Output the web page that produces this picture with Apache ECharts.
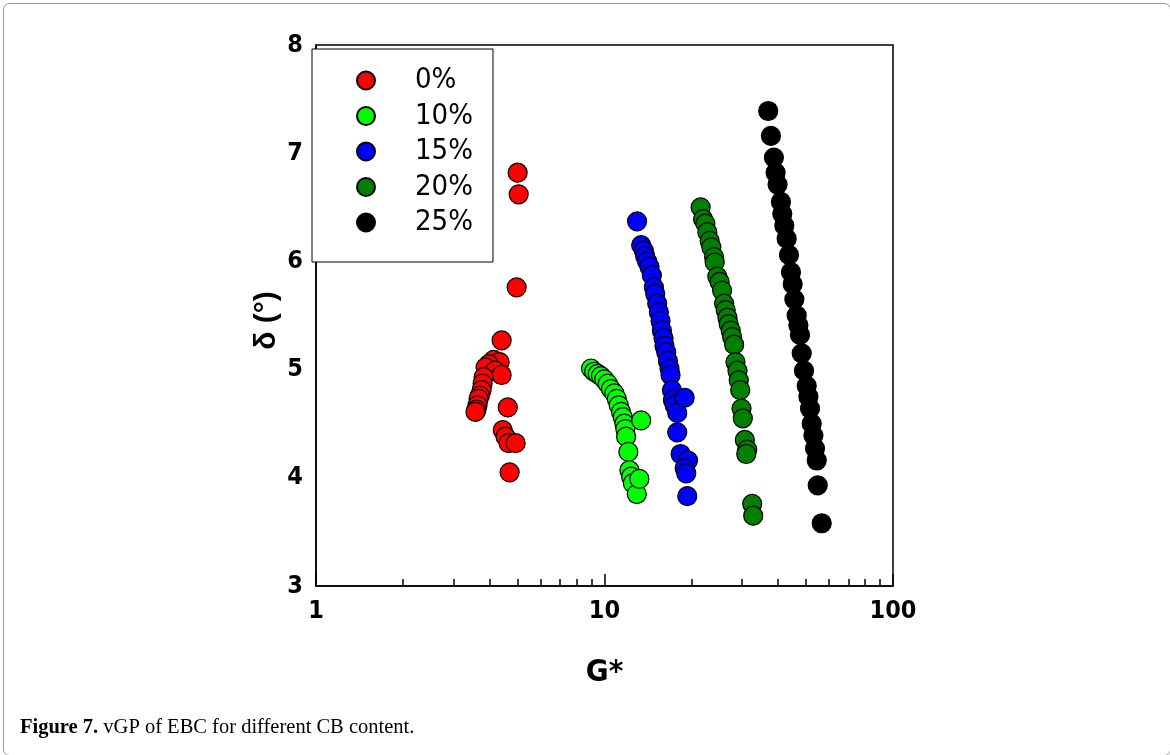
<!DOCTYPE html>
<html><head><meta charset="utf-8">
<script src="https://cdn.jsdelivr.net/npm/echarts@6/dist/echarts.min.js"></script>
<style>html,body{margin:0;padding:0;background:#fff}#c{width:1170px;height:755px}</style>
</head><body><div id="c"></div>
<script>
// ---- data ----
const categories = ['0%', '10%', '15%', '20%', '25%'];

const gStar0  = [5.00,5.04,4.96,4.40,4.13,4.33,3.97,3.87,4.18,4.40,3.81,3.78,3.75,3.70,3.66,3.63,3.60,3.57,4.62,4.44,4.54,4.65,4.92,4.69];
const delta0  = [6.82,6.62,5.76,5.27,5.09,5.07,5.05,5.02,4.99,4.95,4.93,4.87,4.81,4.76,4.73,4.67,4.63,4.61,4.65,4.44,4.38,4.32,4.32,4.05];

const gStar10 = [8.98,9.21,9.47,9.72,9.98,10.26,10.53,10.82,11.03,11.20,11.41,11.57,11.72,11.81,11.88,12.10,12.20,12.37,12.54,12.94,13.21,13.40];
const delta10 = [5.01,4.98,4.96,4.94,4.91,4.87,4.82,4.78,4.73,4.67,4.61,4.56,4.50,4.45,4.38,4.24,4.07,4.01,3.95,3.85,3.99,4.53];

const gStar15 = [12.97,13.40,13.69,13.83,14.05,14.32,14.59,14.83,14.99,15.23,15.43,15.64,15.81,16.02,16.14,16.37,16.59,16.80,16.94,17.13,17.26,17.50,17.87,18.96,17.87,18.36,19.47,18.96,19.20,19.36];
const delta15 = [6.37,6.15,6.10,6.05,6.00,5.95,5.87,5.76,5.70,5.61,5.53,5.45,5.36,5.29,5.22,5.16,5.08,5.01,4.95,4.81,4.72,4.67,4.60,4.74,4.42,4.22,4.16,4.09,4.04,3.83];

const gStar20 = [21.54,21.96,22.37,22.73,23.15,23.46,23.98,24.10,24.60,25.07,25.56,25.98,26.31,26.68,26.95,27.39,27.70,28.14,28.44,28.90,29.20,29.54,29.85,30.16,30.65,31.24,31.00,32.51,32.77];
const delta20 = [6.50,6.39,6.35,6.27,6.19,6.13,6.04,5.99,5.86,5.81,5.73,5.61,5.55,5.48,5.42,5.36,5.30,5.23,5.07,4.99,4.90,4.81,4.64,4.55,4.35,4.26,4.22,3.76,3.65];

const gStar25 = [36.94,37.74,38.65,39.18,39.81,40.88,41.33,42.01,42.79,43.59,44.29,44.90,45.51,46.36,46.99,47.60,48.26,49.15,50.23,50.91,51.57,52.27,52.99,53.67,54.41,54.84,56.62];
const delta25 = [7.39,7.16,6.96,6.82,6.71,6.55,6.44,6.33,6.21,6.06,5.90,5.79,5.65,5.50,5.41,5.32,5.15,4.99,4.85,4.75,4.64,4.50,4.39,4.27,4.16,3.93,3.58];

const xMajorTicks = [1, 10, 100];
const xMinorTicks = [2,3,4,5,6,7,8,9,20,30,40,50,60,70,80,90];

// ---- chart ----
function pairs(xs, ys) { return xs.map((x, i) => [x, ys[i]]); }
const seriesX = [gStar0, gStar10, gStar15, gStar20, gStar25];
const seriesY = [delta0, delta10, delta15, delta20, delta25];
const colors = ['#ff0000', '#00ff00', '#0000ff', '#008000', '#000000'];

const font = 'Liberation Sans, Arial, sans-serif';
const narrow = '"Liberation Sans Narrow", "Arial Narrow", "DejaVu Sans Condensed", sans-serif';
const chart = echarts.init(document.getElementById('c'), null, {renderer: 'canvas'});
chart.setOption({
  animation: false,
  backgroundColor: '#fff',
  grid: {left: 316, right: 277, top: 45, bottom: 169, show: true, borderColor: '#000', borderWidth: 1.5, backgroundColor: 'transparent'},
  legend: {
    orient: 'vertical', left: 312, top: 49,
    padding: [17, 20, 25, 44], itemWidth: 18, itemHeight: 18, itemGap: 6.5,
    backgroundColor: '#fff', borderColor: '#000', borderWidth: 1,
    textStyle: {fontFamily: narrow, fontSize: 29, color: '#000', padding: [0, 0, 0, 35]},
    data: categories
  },
  xAxis: [{
    type: 'log', logBase: 10, min: 1, max: 100,
    axisLine: {lineStyle: {color: '#000', width: 1.5}},
    axisTick: {inside: true, length: 12, customValues: xMajorTicks, lineStyle: {color: '#000', width: 1.5}},
    axisLabel: {fontFamily: narrow, fontWeight: 'bold', fontSize: 25, color: '#000', margin: 13, customValues: xMajorTicks},
    splitLine: {show: false},
    name: 'G*', nameLocation: 'middle', nameGap: 71,
    nameTextStyle: {fontFamily: narrow, fontWeight: 'bold', fontSize: 31, color: '#000'}
  }, {
    type: 'log', logBase: 10, min: 1, max: 100, position: 'bottom',
    axisLine: {show: false},
    axisTick: {inside: true, length: 7, customValues: xMinorTicks, lineStyle: {color: '#000', width: 1.5}},
    axisLabel: {show: false},
    splitLine: {show: false}
  }],
  yAxis: {
    type: 'value', min: 3, max: 8, interval: 1,
    axisLine: {lineStyle: {color: '#000', width: 1.5}},
    axisTick: {show: false},
    axisLabel: {fontFamily: narrow, fontWeight: 'bold', fontSize: 25, color: '#000', margin: 13},
    splitLine: {show: false},
    name: 'δ (°)', nameLocation: 'middle', nameGap: 34,
    nameTextStyle: {fontFamily: font, fontWeight: 'bold', fontSize: 30, color: '#000', padding: [0, 10, 0, 0]}
  },
  series: categories.map((name, i) => ({
    name, type: 'scatter', xAxisIndex: 0,
    symbol: 'circle', symbolSize: 19,
    itemStyle: {color: colors[i], borderColor: '#000', borderWidth: 1.2, opacity: 1},
    emphasis: {disabled: true},
    data: pairs(seriesX[i], seriesY[i])
  })),
  graphic: [
    {type: 'rect', left: 1, top: 1, shape: {width: 1167, height: 752, r: 6}, style: {fill: 'none', stroke: '#999', lineWidth: 1}, silent: true},
    {type: 'text', left: 20, top: 717, style: {
      text: '{b|Figure 7.} vGP of EBC for different CB content.',
      font: '20.5px "Liberation Serif", serif', fill: '#000',
      rich: {b: {fontWeight: 'bold', fontFamily: 'Liberation Serif', fontSize: 20.5}}
    }}
  ]
});
</script></body></html>
